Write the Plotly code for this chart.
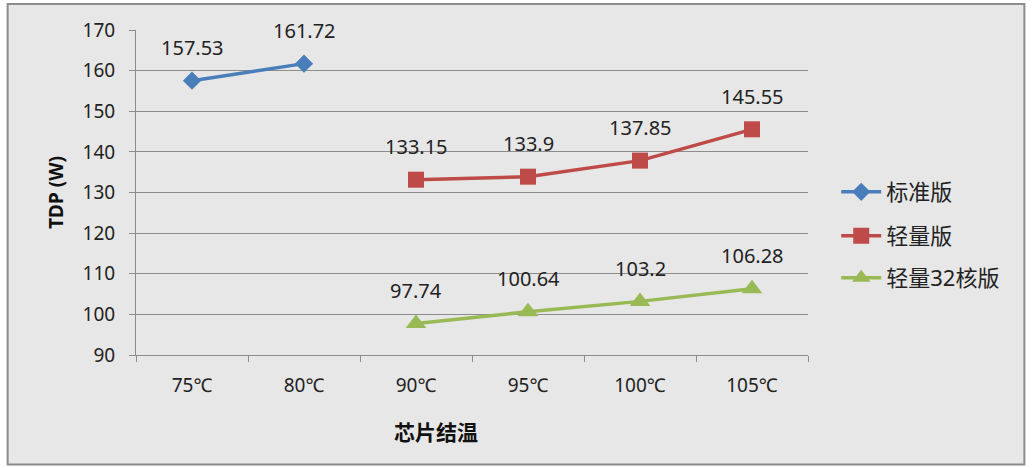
import plotly.graph_objects as go

categories = ["75℃", "80℃", "90℃", "95℃", "100℃", "105℃"]
series_names = ["标准版", "轻量版", "轻量32核版"]
std_values = [157.53, 161.72, None, None, None, None]
light_values = [None, None, 133.15, 133.9, 137.85, 145.55]
light32_values = [None, None, 97.74, 100.64, 103.2, 106.28]
y_ticks = [90, 100, 110, 120, 130, 140, 150, 160, 170]

colors = ["#4a7ebb", "#be4b48", "#98b954"]
symbols = ["diamond", "square", "triangle-up"]
sizes = [14, 16, 18]
legend_ids = ["legend", "legend2", "legend3"]
legend_y = [0.5015, 0.366, 0.237]

FONT = "Noto Sans, Noto Sans CJK SC, sans-serif"
fig = go.Figure()
annotations = []
for name, vals, c, sym, sz, lg in zip(series_names, [std_values, light_values, light32_values],
                                      colors, symbols, sizes, legend_ids):
    fig.add_trace(go.Scatter(
        x=categories, y=vals, name=name, mode="lines+markers",
        line=dict(color=c, width=3.5),
        marker=dict(symbol=sym, size=sz, color=c),
        connectgaps=False, legend=lg,
    ))
    for cat, v in zip(categories, vals):
        if v is None:
            continue
        annotations.append(dict(
            x=cat, y=v, xref="x", yref="y", text=f"{v:g}", showarrow=False,
            yshift=33, yanchor="middle",
            font=dict(family=FONT, size=20, color="#222222"),
        ))

annotations.append(dict(
    x=(436 - 136) / 672, y=-0.238, xref="paper", yref="paper", text="<b>芯片结温</b>",
    showarrow=False, xanchor="center", yanchor="middle",
    font=dict(family=FONT, size=21, color="#111111"),
))
annotations.append(dict(
    x=-0.12, y=0.5, xref="paper", yref="paper", text="<b>TDP (W)</b>", textangle=-90,
    showarrow=False, xanchor="center", yanchor="middle",
    font=dict(family=FONT, size=19, color="#111111"),
))

layout_legends = {}
for lg, ly in zip(legend_ids, legend_y):
    layout_legends[lg] = dict(
        x=1.042, y=ly, xanchor="left", yanchor="middle",
        bgcolor="rgba(0,0,0,0)", font=dict(family=FONT, size=22, color="#222222"),
        itemwidth=40,
    )

fig.update_layout(
    width=1032, height=468,
    margin=dict(l=136, r=224, t=30, b=113),
    paper_bgcolor="white", plot_bgcolor="#e7e7e7",
    showlegend=True,
    annotations=annotations,
    shapes=[dict(type="rect", xref="paper", yref="paper",
                 x0=-0.191, x1=1.322, y0=-0.337, y1=1.08,
                 fillcolor="#e7e7e7", line=dict(color="#8c8c8c", width=2), layer="below")],
    xaxis=dict(type="category", range=[-0.5, 5.5], tickson="boundaries",
               ticks="outside", ticklen=6, tickcolor="#8c8c8c",
               showline=True, linecolor="#8c8c8c", linewidth=1, showgrid=False,
               tickfont=dict(family=FONT, size=19, color="#222222"),
               ticklabelstandoff=13, fixedrange=True),
    yaxis=dict(range=[90, 170], tickvals=y_ticks, ticks="outside", ticklen=6,
               tickcolor="#8c8c8c", showline=True, linecolor="#8c8c8c", linewidth=1,
               showgrid=True, gridcolor="#8c8c8c", gridwidth=1, zeroline=False,
               tickfont=dict(family=FONT, size=19, color="#222222"),
               ticklabelstandoff=10),
    **layout_legends,
)

fig.write_html("out.html")
